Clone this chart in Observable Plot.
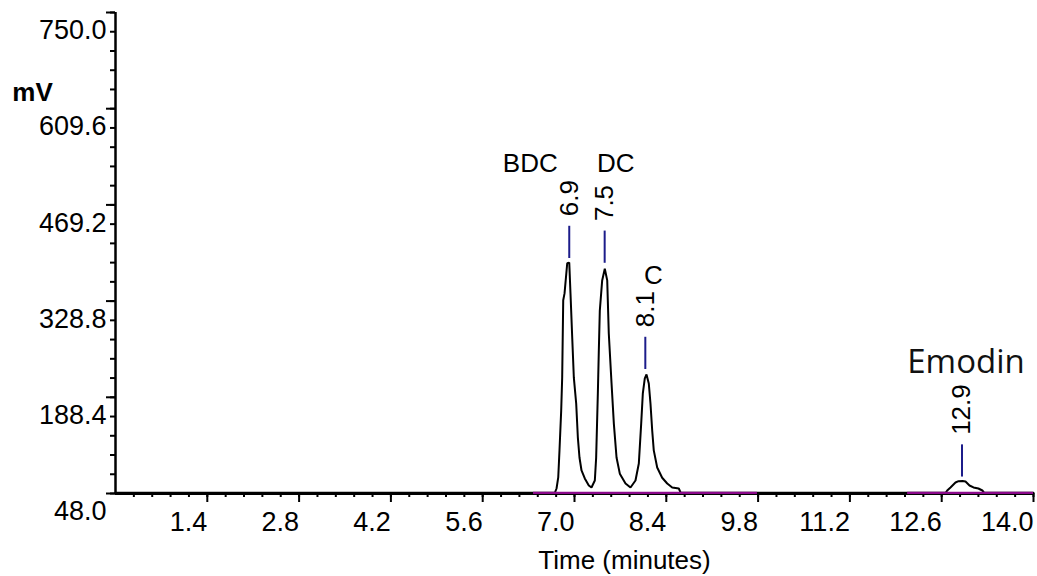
<!DOCTYPE html>
<html>
<head>
<meta charset="utf-8">
<script src="https://cdn.jsdelivr.net/npm/d3@7"></script>
<script src="https://cdn.jsdelivr.net/npm/@observablehq/plot@0.6"></script>
<style>
  html, body { margin: 0; padding: 0; background: #fff; }
  #chart svg { display: block; }
</style>
</head>
<body>
<div id="chart"></div>
<script>
// Chromatogram trace (time in minutes, signal in mV)
const time = [0, 6.70, 6.726, 6.752, 6.771, 6.797, 6.812, 6.828, 6.848, 6.889, 6.920, 6.939, 6.965, 6.990, 7.026, 7.051, 7.076, 7.107, 7.157, 7.218, 7.259, 7.310, 7.330, 7.356, 7.371, 7.386, 7.422, 7.462, 7.499, 7.523, 7.565, 7.600, 7.641, 7.691, 7.778, 7.854, 7.930, 7.981, 8.017, 8.042, 8.072, 8.098, 8.133, 8.159, 8.185, 8.209, 8.261, 8.337, 8.414, 8.490, 8.591, 8.620, 12.660, 12.684, 12.734, 12.810, 12.857, 12.918, 12.963, 13.024, 13.085, 13.160, 13.220, 13.250, 14.0];
const signal = [49, 49, 55.3, 71.4, 110.8, 169, 217, 330, 340, 384, 385, 340, 276, 217, 179, 130, 100.5, 81.6, 70, 59.7, 56.8, 67, 100, 194, 257, 315, 359, 376, 359, 281.5, 208.5, 150, 100.5, 77, 62.6, 56.8, 67, 91.8, 150, 194, 216, 221.7, 208.5, 179, 140, 111, 86, 71, 62.6, 56.8, 55.3, 49, 49, 52.4, 56.8, 64, 66, 66.2, 65.5, 59.7, 56.8, 55.3, 52.4, 49, 49];

// Peaks
const peakTime = [6.92, 7.46, 8.08, 12.91];
const peakApex = [385, 378, 223, 66];
const peakLabel = ["6.9", "7.5", "8.1", "12.9"];
const compoundName = ["BDC", "DC", "C", "Emodin"];

// Integration baseline segments (start, end in minutes)
const baselineStart = [6.375, 12.08];
const baselineEnd = [9.79, 14.0];
const baselineLevel = 49;

// Axis ticks
const xTicks = [1.4, 2.8, 4.2, 5.6, 7.0, 8.4, 9.8, 11.2, 12.6, 14.0];
const yTicks = [48.0, 188.4, 328.8, 469.2, 609.6, 750.0];
const xMinor = d3.range(1, 51).map(i => +(i * 0.28).toFixed(2));
const yMinor = d3.range(0, 26).map(i => +(48 + i * 28.08).toFixed(2));

const trace = time.map((t, i) => ({t, v: signal[i]}));
const peaks = peakTime.map((t, i) => ({t, apex: peakApex[i], label: peakLabel[i], name: compoundName[i]}));
const baselines = baselineStart.map((s, i) => ({x1: s, x2: baselineEnd[i], y: baselineLevel}));

const font = "'Liberation Sans', Arial, sans-serif";
const gap = 6, len = 47;

function nameMark(i, opts) {
  return Plot.text([peaks[i]], {
    x: "t", y: d => d.apex + gap + len, text: "name",
    fontFamily: font, fontSize: 26, fill: "#000", ...opts
  });
}

const chart = Plot.plot({
  width: 1037,
  height: 576,
  marginLeft: 115,
  marginRight: 4,
  marginTop: 12,
  marginBottom: 83,
  x: {domain: [0, 14], axis: null},
  y: {domain: [48, 750], axis: null},
  style: {fontFamily: font, background: "#fff", color: "#000", overflow: "visible"},
  marks: [
    // ticks
    Plot.axisY(yMinor, {anchor: "left", tickSize: 5, strokeWidth: 2, fill: "none", label: null}),
    Plot.axisY(yTicks, {anchor: "left", tickSize: 9, strokeWidth: 2, fill: "none", label: null}),
    Plot.axisX(xMinor, {anchor: "bottom", tickSize: 4, strokeWidth: 2, fill: "none", label: null}),
    Plot.axisX(xTicks, {anchor: "bottom", tickSize: 9, strokeWidth: 2, fill: "none", label: null}),
    // axis lines
    Plot.ruleX([0], {strokeWidth: 2.5, stroke: "#000"}),
    Plot.ruleY([48], {strokeWidth: 3, stroke: "#000"}),
    // tick labels
    Plot.text(yTicks, {x: 0, y: d => d, text: d => d.toFixed(1), textAnchor: "end", dx: -9, dy: 18, fontSize: 27, fontFamily: font, fill: "#000"}),
    Plot.text(xTicks, {x: d => d, y: 48, text: d => d.toFixed(1), textAnchor: "end", dy: 29, fontSize: 27, fontFamily: font, fill: "#000"}),
    // axis titles
    Plot.text(["Time (minutes)"], {frameAnchor: "bottom", text: d => d, textAnchor: "middle", lineAnchor: "middle", dx: 50, dy: 67, fontSize: 26, fontFamily: font, fill: "#000"}),
    Plot.text(["mV"], {frameAnchor: "top-left", text: d => d, textAnchor: "middle", lineAnchor: "middle", dx: -83, dy: 80, fontSize: 26, fontWeight: "bold", fontFamily: font, fill: "#000"}),
    // trace
    Plot.line(trace, {x: "t", y: "v", stroke: "#000", strokeWidth: 2, strokeLinejoin: "miter"}),
    // integration baseline
    Plot.ruleY(baselines, {x1: "x1", x2: "x2", y: "y", stroke: "#8b0a8b", strokeWidth: 2.2}),
    // peak markers
    Plot.ruleX(peaks, {x: "t", y1: d => d.apex + gap, y2: d => d.apex + gap + len, stroke: "#1c1c8a", strokeWidth: 2}),
    // retention time labels
    Plot.text(peaks, {x: "t", y: d => d.apex + gap + len, text: "label", rotate: -90, textAnchor: "start", dy: -10, fontSize: 26, fontFamily: font, fill: "#000"}),
    // compound names
    nameMark(0, {dx: -39, dy: -63}),
    nameMark(1, {dx: 11, dy: -67}),
    nameMark(2, {dx: 8, dy: -62}),
    nameMark(3, {dx: 4, dy: -82, fontFamily: "'Open Sans', 'Noto Sans', sans-serif", fontSize: 33, fill: "#111"})
  ]
});

document.getElementById("chart").appendChild(chart);
</script>
</body>
</html>
